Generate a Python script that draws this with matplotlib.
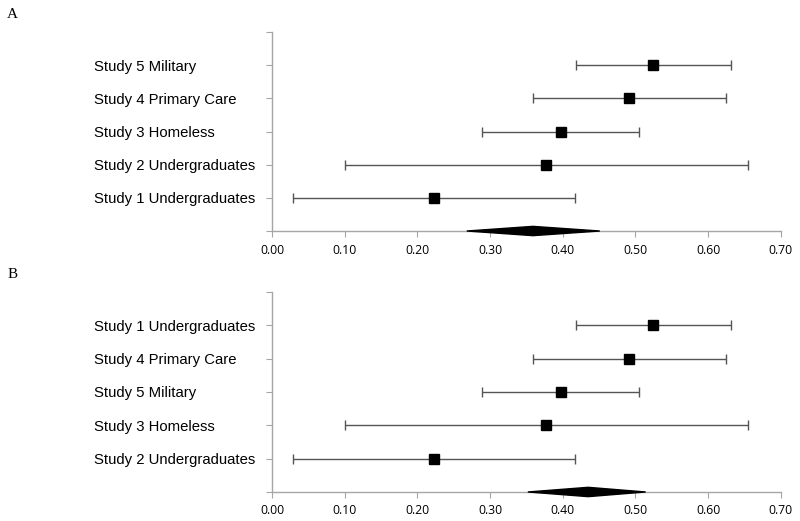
import matplotlib
matplotlib.use('Agg')
import matplotlib.pyplot as plt
import matplotlib.transforms as mtransforms
from matplotlib.patches import Polygon

labels_a = ['Study 1 Undergraduates', 'Study 2 Undergraduates', 'Study 3 Homeless',
            'Study 4 Primary Care', 'Study 5 Military']
labels_b = ['Study 2 Undergraduates', 'Study 3 Homeless', 'Study 5 Military',
            'Study 4 Primary Care', 'Study 1 Undergraduates']

# effect sizes, bottom row first
est = [0.223, 0.377, 0.397, 0.491, 0.524]
lower = [0.029, 0.100, 0.289, 0.359, 0.418]
upper = [0.417, 0.655, 0.505, 0.624, 0.632]

# pooled estimate (low, mean, high)
pooled_a = [0.268, 0.359, 0.451]
pooled_b = [0.352, 0.435, 0.514]

xticks = [0.0, 0.1, 0.2, 0.3, 0.4, 0.5, 0.6, 0.7]


def forest(fig, ax, labels, pooled):
    ypos = list(range(1, len(labels) + 1))
    err = [[e - l for e, l in zip(est, lower)], [u - e for e, u in zip(est, upper)]]
    ax.errorbar(est, ypos, xerr=err, fmt='s', color='black', ms=7.5,
                ecolor='#555555', elinewidth=1.0, capsize=3.5, capthick=1.0)

    lo, mid, hi = pooled
    h = 0.14
    ax.add_patch(Polygon([(lo, 0), (mid, h), (hi, 0), (mid, -h)], closed=True,
                         color='black', clip_on=False, zorder=5))

    ax.set_xlim(0, 0.7)
    ax.set_ylim(0, 6)
    ax.set_xticks(xticks)
    ax.set_xticklabels([f'{t:.2f}' for t in xticks], family='Open Sans', fontsize=8.8)
    ax.set_yticks(range(7))
    ax.set_yticklabels([''] + labels + [''], family='Liberation Sans', fontsize=10.7,
                       ha='left')
    # nudge labels up a little, like the reference
    shift = mtransforms.ScaledTranslation(0, 2.5 / 72, fig.dpi_scale_trans)
    for t in ax.get_yticklabels():
        t.set_transform(t.get_transform() + shift)
    ax.tick_params(axis='y', length=4, color='#a6a6a6', pad=124)
    ax.tick_params(axis='x', length=4, color='#a6a6a6', pad=5)
    for s in ['top', 'right']:
        ax.spines[s].set_visible(False)
    for s in ['left', 'bottom']:
        ax.spines[s].set_color('#a6a6a6')
        ax.spines[s].set_linewidth(1.0)


fig = plt.figure(figsize=(8, 5.21), dpi=100)
ax_a = fig.add_axes([0.34, 0.5566, 0.636, 0.382])
ax_b = fig.add_axes([0.34, 0.0557, 0.636, 0.384])

forest(fig, ax_a, labels_a, pooled_a)
forest(fig, ax_b, labels_b, pooled_b)

fig.text(0.009, 0.985, 'A', family='Liberation Serif', fontsize=11, va='top')
fig.text(0.009, 0.485, 'B', family='Liberation Serif', fontsize=11, va='top')

fig.savefig('out.png', dpi=100)
